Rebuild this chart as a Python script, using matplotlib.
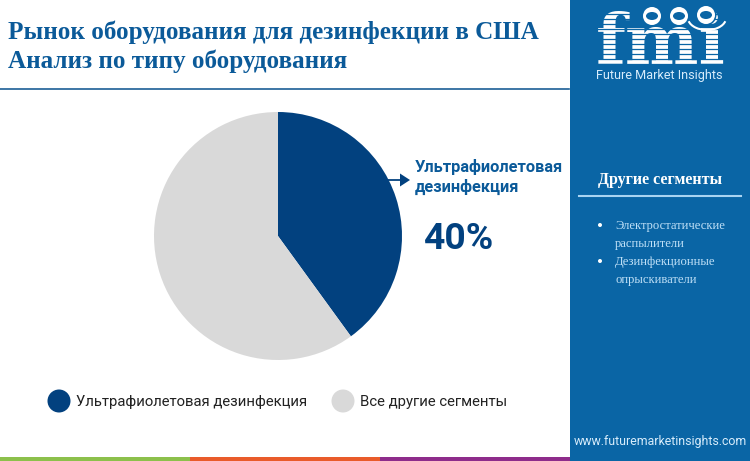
import matplotlib
matplotlib.use('Agg')
import matplotlib.pyplot as plt
from matplotlib.patches import Rectangle, Circle, Arc, FancyArrow, Ellipse

title_lines = ['Рынок оборудования для дезинфекции в США', 'Анализ по типу оборудования']
categories = ['Ультрафиолетовая дезинфекция', 'Все другие сегменты']
values = [40, 60]
callout = ['Ультрафиолетовая', 'дезинфекция']
callout_value = '40%'
side_title = 'Другие сегменты'
side_items = [['Электростатические', 'распылители'], ['Дезинфекционные', 'опрыскиватели']]
brand = 'Future Market Insights'
site = 'www.futuremarketinsights.com'

NAVY = '#02417f'
GREY = '#d9d9d9'
PANEL = '#0a65a5'
TITLE = '#0b5a99'

W, H = 750, 461
fig = plt.figure(figsize=(W / 100, H / 100), dpi=100, facecolor='white')

bg = fig.add_axes([0, 0, 1, 1])
bg.set_xlim(0, W)
bg.set_ylim(H, 0)
bg.axis('off')

# Panel, rules, bottom strip
bg.add_patch(Rectangle((570, 0), 180, 461, fc=PANEL, ec='none'))
bg.plot([0, 569], [89.5, 89.5], color='#1b5f96', lw=1.2)
for x0, c in zip([0, 190, 380], ['#8cc04b', '#e95b2a', '#8e2c8b']):
    bg.add_patch(Rectangle((x0, 457), 190, 4, fc=c, ec='none'))

# Title
for y, t in zip([32, 61], title_lines):
    bg.text(8, y, t, family='Liberation Serif', weight='bold', fontsize=18.13, color=TITLE, va='center', ha='left')

# Pie
ax = fig.add_axes([154 / W, 1 - 360 / H, 248 / W, 248 / H])
ax.pie(values, colors=[NAVY, GREY], startangle=90, counterclock=False, radius=1,
       wedgeprops=dict(linewidth=0))
ax.set_xlim(-1, 1)
ax.set_ylim(-1, 1)

# Callout
bg.add_patch(FancyArrow(388, 180, 22, 0, width=1.8, head_width=13, head_length=10,
                        length_includes_head=True, fc=NAVY, ec='none', zorder=5))
for y, t in zip([167, 186.5], callout):
    bg.text(415, y, t, family='Roboto', weight='bold', fontsize=11.75, color=TITLE, va='center')
bg.text(424, 239, callout_value, family='Roboto', weight='bold', fontsize=26.8, color=NAVY, va='center')

# Legend
for cx, c, t, tx in zip([59, 343], [NAVY, GREY], categories, [76, 360]):
    bg.add_patch(Circle((cx, 401), 11.5, fc=c, ec='none'))
    bg.text(tx, 402, t, family='Roboto', fontsize=10.72, color='#222222', va='center')

# Side panel text
bg.text(660.5, 180, side_title, family='Liberation Serif', weight='bold', fontsize=11.5, color='white', ha='center', va='center')
bg.plot([579, 741], [195.5, 195.5], color='#a9d4f2', lw=1.5)
ys = [[226, 243.5], [262, 279.5]]
for (y1, y2), lines in zip(ys, side_items):
    bg.add_patch(Circle((600, y1 - 1), 2, fc='white', ec='none'))
    for y, t in zip((y1, y2), lines):
        bg.text(615, y, t, family='Liberation Serif', fontsize=9.05, color='#bfe0f7', va='center')

# Logo
bg.text(596, 64, 'fmi', family='DejaVu Serif', weight='bold', fontsize=50, color='white', ha='left', va='baseline')
for y in range(14, 66, 5):
    bg.plot([592, 726], [y, y], color=PANEL, lw=0.9, zorder=4)
for cx, cy in zip([652, 679, 706], [16, 16, 15]):
    bg.add_patch(Circle((cx, cy), 10.5, fc=PANEL, ec='none', zorder=5))
    bg.add_patch(Circle((cx, cy), 9, fc='white', ec='none', zorder=6))
    bg.add_patch(Ellipse((cx, cy), 12, 8, fc=PANEL, ec='none', zorder=7))
bg.add_patch(Arc((707, 18), 38, 24, theta1=10, theta2=170, ec='white', lw=1.5, zorder=5))
bg.text(659, 75, brand, family='Roboto', fontsize=9.1, color='#d7ecfb', ha='center', va='center', zorder=7)

# Site
bg.text(660.5, 441, site, family='Roboto', fontsize=8.95, color='#d7ecfb', ha='center', va='center')

fig.savefig('out.png', dpi=100, facecolor='white')
